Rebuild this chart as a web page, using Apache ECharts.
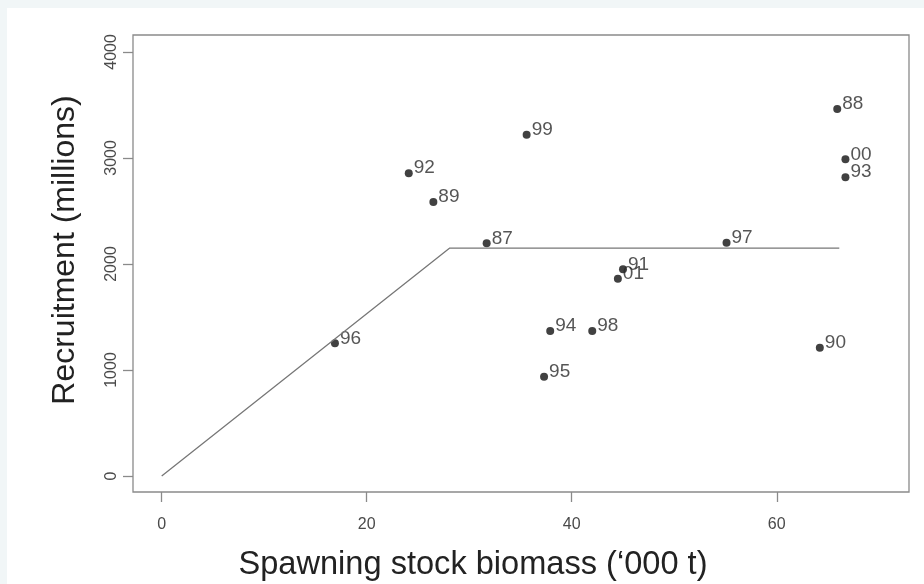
<!DOCTYPE html>
<html>
<head>
<meta charset="utf-8">
<script src="https://cdn.jsdelivr.net/npm/echarts@6/dist/echarts.min.js"></script>
<style>
html,body{margin:0;padding:0;background:#f1f6f7;}
#c{position:absolute;left:7px;top:8px;width:917px;height:576px;background:#fff;}
</style>
</head>
<body>
<div id="c"></div>
<script>
var years = ['88','00','93','99','87','97','91','01','92','89','96','94','98','95','90'];
var ssb   = [65.9, 66.7, 66.7, 35.6, 31.7, 55.1, 45.0, 44.5, 24.1, 26.5, 16.9, 37.9, 42.0, 37.3, 64.2];
var recr  = [3462, 2987, 2818, 3220, 2195, 2201, 1950, 1861, 2856, 2585, 1252, 1368, 1368, 937, 1210];
var stickX = [0, 28.1, 66.1];
var stickY = [0, 2150, 2150];
var xTicks = [0, 20, 40, 60];
var yTicks = [0, 1000, 2000, 3000, 4000];

var chart = echarts.init(document.getElementById('c'));
var pts = ssb.map(function(v,i){ return [v, recr[i], years[i]]; });
var line = stickX.map(function(v,i){ return [v, stickY[i]]; });
var font = 'Liberation Sans, Arial, sans-serif';
chart.setOption({
  animation:false,
  grid:{left:126, top:27, right:15, bottom:92, show:true, borderColor:'#8a8a8a', borderWidth:1.3, backgroundColor:'transparent'},
  xAxis:{type:'value', min:-2.8, max:72.9,
    axisLine:{show:false, onZero:false}, splitLine:{show:false},
    axisTick:{show:true, customValues:xTicks, length:10, inside:false, lineStyle:{color:'#8a8a8a', width:1.3}},
    axisLabel:{customValues:xTicks, margin:25, fontSize:16, color:'#4a4a4a', fontFamily:font, formatter:function(v){return String(v);}}
  },
  yAxis:{type:'value', min:-151, max:4160,
    axisLine:{show:false, onZero:false}, splitLine:{show:false},
    axisTick:{show:true, customValues:yTicks, length:10, inside:false, lineStyle:{color:'#8a8a8a', width:1.3}},
    axisLabel:{customValues:yTicks, rotate:90, margin:13, fontSize:16, color:'#4a4a4a', fontFamily:font, formatter:function(v){return String(v);}}
  },
  graphic:[
    {type:'text', style:{text:'Spawning stock biomass (\u2018000 t)', x:466, y:557, align:'center', verticalAlign:'middle', fontSize:32.6, fill:'#222', fontFamily:font}},
    {type:'text', x:58, y:242, rotation:Math.PI/2, style:{text:'Recruitment (millions)', align:'center', verticalAlign:'middle', fontSize:32, fill:'#222', fontFamily:font}}
  ],
  series:[
    {type:'line', data:line, symbol:'none', lineStyle:{color:'#777', width:1.3}, silent:true},
    {type:'scatter', data:pts, symbolSize:8, itemStyle:{color:'#111'},
     label:{show:true, position:'right', distance:1, offset:[0,-5], formatter:function(p){return p.data[2];}, fontSize:19, color:'#2a2a2a', fontFamily:font}}
  ]
});
</script>
</body>
</html>
